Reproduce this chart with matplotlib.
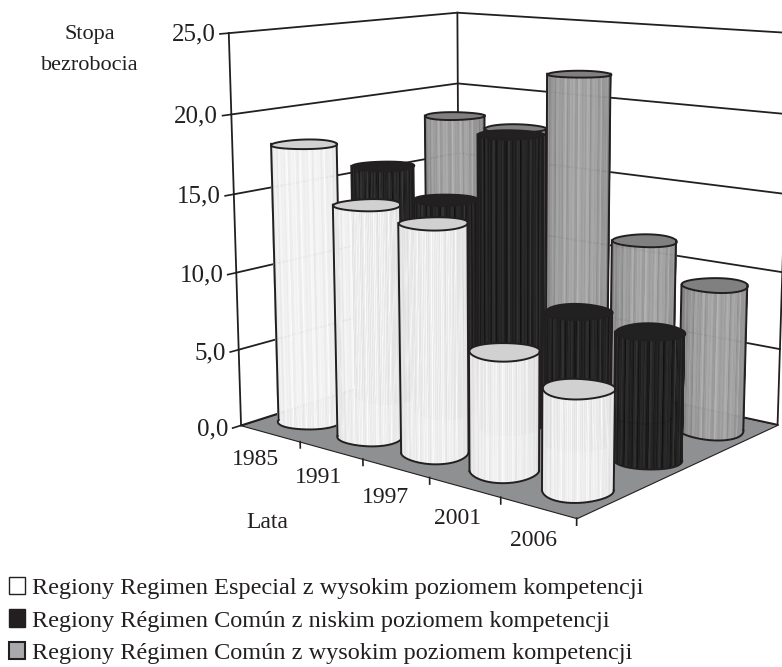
import numpy as np
import matplotlib
matplotlib.use('Agg')
import matplotlib.pyplot as plt
from matplotlib.patches import Patch
from mpl_toolkits.mplot3d import proj3d
from mpl_toolkits.mplot3d.art3d import Poly3DCollection

plt.rcParams['font.family'] = ['Liberation Serif', 'DejaVu Serif']

years = ['1985', '1991', '1997', '2001', '2006']
series_names = ['Regiony Regimen Especial z wysokim poziomem kompetencji',
                'Regiony Régimen Común z niskim poziomem kompetencji',
                'Regiony Régimen Común z wysokim poziomem kompetencji']
white_vals = [18.0, 14.75, 14.25, 7.3, 6.05]
black_vals = [15.7, 14.05, 18.75, 8.3, 7.9]
gray_vals = [18.3, 17.9, 21.9, 11.6, 9.45]
z_ticks = [0, 5, 10, 15, 20, 25]

INK = '#231f20'
elev, azim, focal = 11.364, -51.293, 0.4949
bx, by = 1.0676, 0.8625
s, a, b = 3561.16, 509.47, 233.43
r_box = 0.082
kx = bx / 5
ky = by / 3

fig = plt.figure(figsize=(7.82, 6.67), dpi=100)
S = s * 0.185
L = a - 0.095 * s
top = b - 0.09 * s
ax = fig.add_axes([L / 782, 1 - (top + S) / 667, S / 782, S / 667], projection='3d', computed_zorder=False)
ax.set_xlim(-0.5, 4.5, view_margin=0)
ax.set_ylim(-0.5, 2.5, view_margin=0)
ax.set_zlim(0, 25, view_margin=0)
ax.view_init(elev, azim)
ax.set_proj_type('persp', focal_length=focal)
ax.set_box_aspect((bx, by, 1))
ax.autoscale(False)
ax.set_xticks([])
ax.set_yticks([])
ax.set_zticks([])
ax.set_axis_off()


def label(x, y, z, text, size, ha):
    # 2d text placed at the projected data point
    u, v, _ = proj3d.proj_transform(x, y, z, ax.get_proj())
    ax.text2D(u, v, text, transform=ax.transData, ha=ha, va='center', fontsize=size, color=INK)


def draw_floor():
    floor = [[(-.5, -.5, 0), (4.5, -.5, 0), (4.5, 2.5, 0), (-.5, 2.5, 0)]]
    ax.add_collection3d(Poly3DCollection(floor, facecolors='#8f9092', edgecolors=INK, linewidths=0.8, zorder=1), autolim=False)


def draw_walls():
    for z in z_ticks:
        ax.plot([-.5, -.5, 4.5], [-.5, 2.5, 2.5], [z, z, z], color=INK, lw=1.3, zorder=2)
    for x, y in [(-.5, -.5), (-.5, 2.5), (4.5, 2.5)]:
        ax.plot([x, x], [y, y], [0, 25], color=INK, lw=1.3, zorder=2)


def shade(t, kind):
    stripes = 0.5 * np.cos(41 * t) + 0.5 * np.cos(67 * t + 1)
    if kind == 0:
        return np.clip(0.95 + 0.04 * stripes - 0.12 * t ** 4, 0, 1)
    if kind == 1:
        return np.clip(0.13 + 0.07 * stripes, 0, 1)
    return np.clip(0.64 + 0.07 * stripes - 0.16 * t ** 2, 0, 1)


def ring(cx, cy, th):
    # slightly uneven outline, the originals are not clean circles
    r = r_box * (1 + 0.035 * np.cos(3 * th + cx + 2 * cy))
    return cx + r * np.cos(th) / kx, cy + r * np.sin(th) / ky


def draw_cylinder(cx, cy, h, kind, zo):
    th = np.radians(azim) + np.linspace(-np.pi / 2, np.pi / 2, 61)
    xs, ys = ring(cx, cy, th)
    t = np.linspace(-1, 1, 60)
    quads = [[(xs[i], ys[i], 0), (xs[i + 1], ys[i + 1], 0), (xs[i + 1], ys[i + 1], h), (xs[i], ys[i], h)] for i in range(60)]
    cols = [str(c) for c in shade(t, kind)]
    ax.add_collection3d(Poly3DCollection(quads, facecolors=cols, edgecolors=cols, linewidths=0.4, zorder=zo), autolim=False)
    full = np.linspace(0, 2 * np.pi, 61)
    top_xs, top_ys = ring(cx, cy, full)
    cap = ['0.82', '0.13', '0.5'][kind]
    ax.add_collection3d(Poly3DCollection([list(zip(top_xs, top_ys, np.full(61, h)))], facecolors=cap, edgecolors=INK, linewidths=1.4, zorder=zo + 0.1), autolim=False)
    ax.plot(xs, ys, np.zeros(61), color=INK, lw=1.4, zorder=zo + 0.1)
    for i in (0, -1):
        ax.plot([xs[i], xs[i]], [ys[i], ys[i]], [0, h], color=INK, lw=1.4, zorder=zo + 0.1)


draw_floor()
draw_walls()
rows = [white_vals, black_vals, gray_vals]
order = sorted([(i, j) for i in range(5) for j in range(3)], key=lambda c: c[0] - c[1])
for n, (i, j) in enumerate(order):
    draw_cylinder(i, j, rows[j][i], j, 10 + n)

for z in z_ticks:
    ax.plot([-.5, -.5], [-.5, -.6], [z, z], color=INK, lw=1.2, zorder=3)
    label(-.5, -.65, z, f'{z:.1f}'.replace('.', ','), 18, 'right')
for i, y in enumerate(years):
    ax.plot([i + .5, i + .5], [-.5, -.5], [0, -.4], color=INK, lw=1.2, zorder=3)
    label(i + .47, -1.0, -.25, y, 17, 'center')

fig.text(90 / 782, 1 - 35 / 667, 'Stopa', ha='center', va='center', fontsize=16, color=INK)
fig.text(90 / 782, 1 - 65 / 667, 'bezrobocia', ha='center', va='center', fontsize=16, color=INK)
fig.text(267 / 782, 1 - 522 / 667, 'Lata', ha='center', va='center', fontsize=17, color=INK)

handles = [Patch(facecolor='white', edgecolor=INK), Patch(facecolor=INK, edgecolor=INK), Patch(facecolor='#a7a9ac', edgecolor=INK, linewidth=1.5)]
fig.legend(handles, series_names, loc='upper left', bbox_to_anchor=(9 / 782, 1 - 577 / 667), frameon=False, fontsize=17.5, handlelength=0.66, handleheight=0.72, handletextpad=0.27, labelspacing=0.42, labelcolor=INK, borderpad=0, borderaxespad=0)

fig.savefig('out.png', dpi=100)
